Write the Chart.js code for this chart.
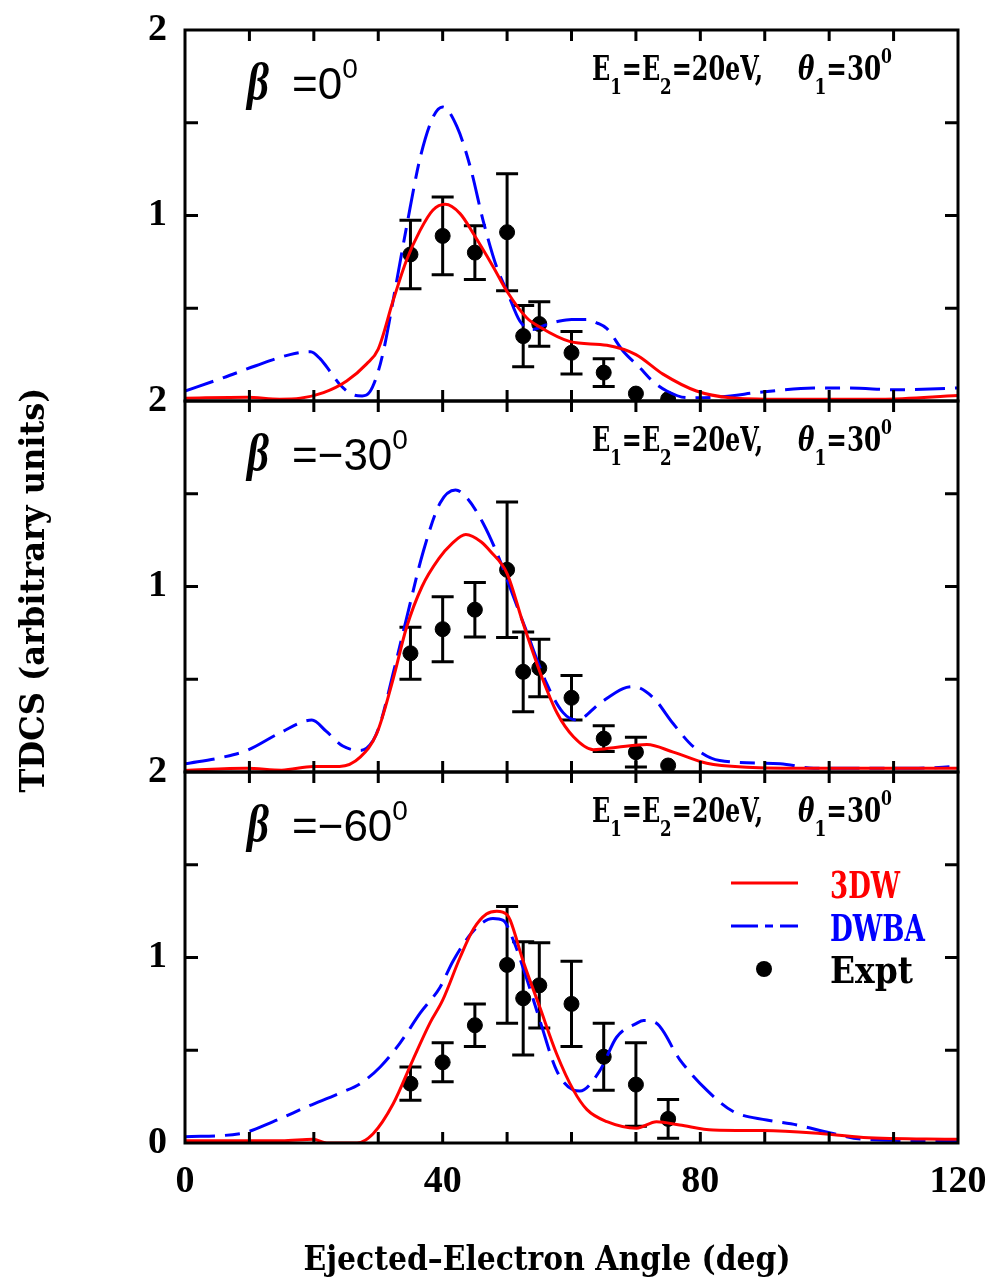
<!DOCTYPE html>
<html>
<head>
<meta charset="utf-8">
<script src="https://cdn.jsdelivr.net/npm/chart.js@4.4.1/dist/chart.umd.min.js"></script>
<style>
  html, body { margin: 0; padding: 0; background: #fff; }
  canvas { display: block; }
</style>
</head>
<body>
<canvas id="tdcs" width="994" height="1281"></canvas>
<script>
// tick labels
const xTickLabels = [0, 40, 80, 120];
const yTickLabels = [0, 1, 2];
const betaLabels  = ['0', '\u221230', '\u221260'];
const seriesNames = ['3DW', 'DWBA', 'Expt'];

// experiment (same angles in all panels)
const exptAngles = [35, 40, 45, 50, 52.5, 55, 60, 65, 70, 75];
const expt0      = [0.79, 0.89, 0.80, 0.91, 0.35, 0.415, 0.26, 0.153, 0.04, 0.01];
const expt0Err   = [0.185, 0.21, 0.145, 0.315, 0.165, 0.12, 0.115, 0.075, 0, 0];
const expt30     = [0.64, 0.77, 0.875, 1.09, 0.54, 0.56, 0.40, 0.18, 0.107, 0.035];
const expt30Err  = [0.14, 0.175, 0.147, 0.365, 0.215, 0.155, 0.12, 0.07, 0.08, 0];
const expt60     = [0.32, 0.435, 0.635, 0.96, 0.78, 0.85, 0.75, 0.465, 0.315, 0.13];
const expt60Err  = [0.09, 0.105, 0.115, 0.315, 0.305, 0.23, 0.23, 0.18, 0.225, 0.105];

// beta = 0
const dwba0Angles = [0, 6, 11, 16.3, 19.5, 21, 22.5, 24, 26, 27.5, 28.7, 30, 31, 32.3, 34.4, 36.5, 38.5, 40, 42.2, 44.3, 46.3, 48.4, 50, 52, 54, 56, 58, 60, 62.4, 64, 65.5, 68, 70.6, 72.5, 74.8, 77.9, 82, 90, 97.6, 103, 110.5, 120];
const dwba0       = [0.054, 0.126, 0.19, 0.25, 0.266, 0.227, 0.16, 0.09, 0.035, 0.027, 0.05, 0.16, 0.3, 0.54, 0.94, 1.31, 1.53, 1.585, 1.48, 1.26, 0.97, 0.72, 0.59, 0.43, 0.385, 0.41, 0.43, 0.44, 0.44, 0.42, 0.39, 0.27, 0.18, 0.11, 0.054, 0.018, 0.02, 0.05, 0.07, 0.07, 0.06, 0.07];
const dw3_0Angles = [0, 9.6, 14.7, 17.9, 21.5, 25.1, 28.2, 30, 32.3, 34.4, 36.5, 38.5, 40.4, 42.7, 44.8, 47.9, 50, 53, 55, 59.8, 65.5, 70, 74.2, 79.4, 84.6, 92.4, 108, 120];
const dw3_0       = [0.015, 0.02, 0.01, 0.015, 0.045, 0.108, 0.2, 0.28, 0.54, 0.76, 0.92, 1.03, 1.06, 1.01, 0.9, 0.72, 0.59, 0.45, 0.4, 0.32, 0.30, 0.25, 0.145, 0.054, 0.018, 0.01, 0.01, 0.03];

// beta = -30
const dwba30Angles = [0, 5.9, 9.6, 14.7, 19.7, 21.9, 24.5, 27.2, 29.2, 30.3, 32.3, 34.4, 37, 39.6, 42, 43.7, 46.3, 48.9, 50.5, 53, 56.1, 58.7, 60.8, 64.4, 68, 69.6, 72.7, 75.8, 79, 83, 92.4, 97.6, 113, 120];
const dwba30       = [0.044, 0.08, 0.116, 0.21, 0.28, 0.22, 0.14, 0.116, 0.17, 0.26, 0.53, 0.83, 1.19, 1.45, 1.52, 1.48, 1.34, 1.14, 0.99, 0.76, 0.48, 0.32, 0.28, 0.37, 0.45, 0.46, 0.40, 0.26, 0.134, 0.062, 0.045, 0.02, 0.02, 0.03];
const dw3_30Angles = [0, 9.6, 15, 19.9, 24, 27.2, 29.8, 32.3, 34.4, 36.8, 39.4, 41.4, 43.6, 46, 47.4, 50, 52.5, 55.2, 57.8, 60.3, 63.4, 67.1, 71.7, 75.8, 81, 87.2, 97.6, 120];
const dw3_30       = [0.008, 0.02, 0.01, 0.03, 0.03, 0.08, 0.21, 0.50, 0.78, 1.00, 1.15, 1.23, 1.28, 1.24, 1.19, 1.07, 0.80, 0.53, 0.315, 0.19, 0.12, 0.134, 0.148, 0.107, 0.047, 0.026, 0.02, 0.02];

// beta = -60
const dwba60Angles = [0, 8.5, 13.7, 18.9, 24.1, 27.2, 30.3, 33.4, 36.5, 39.6, 41.6, 44.7, 47.8, 49.4, 51, 53, 55.1, 57.7, 60.3, 61.3, 64.4, 67, 70.1, 71.2, 73.2, 76.8, 81, 85.1, 90.3, 95, 100.2, 105.3, 120];
const dwba60       = [0.034, 0.05, 0.115, 0.195, 0.27, 0.32, 0.41, 0.54, 0.70, 0.84, 0.98, 1.14, 1.21, 1.20, 1.09, 0.89, 0.66, 0.39, 0.285, 0.28, 0.39, 0.57, 0.645, 0.66, 0.645, 0.45, 0.285, 0.17, 0.124, 0.097, 0.054, 0.02, 0.01];
const dw3_60Angles = [0, 15, 19.9, 22, 26.7, 29.2, 32.3, 35.4, 38, 40, 42.7, 44.8, 46.8, 48.4, 50, 50.5, 52.5, 55.1, 57.7, 60.3, 62.4, 65.5, 70.1, 73.2, 76.8, 82, 89.8, 97.6, 105.3, 120];
const dw3_60       = [0.012, 0.012, 0.02, 0.0, 0.0, 0.05, 0.21, 0.45, 0.645, 0.77, 1.0, 1.155, 1.235, 1.25, 1.23, 1.20, 0.98, 0.73, 0.48, 0.285, 0.18, 0.115, 0.08, 0.115, 0.097, 0.07, 0.067, 0.054, 0.03, 0.02];

const RED = '#ff0000', BLUE = '#0000ff';
const DASH = [30, 10, 15, 10];
const SERIF = '"DejaVu Serif", serif';
const TIMES = '"Liberation Serif", serif';
const SANS  = '"Liberation Sans", Arial, sans-serif';

const panels = [
  { axis: 'yTop', beta: betaLabels[0], expt: expt0,  err: expt0Err },
  { axis: 'yMid', beta: betaLabels[1], expt: expt30, err: expt30Err },
  { axis: 'yBot', beta: betaLabels[2], expt: expt60, err: expt60Err }
];

const pts = (xs, ys) => xs.map((x, i) => ({ x: x, y: ys[i] }));

function curve(label, xs, ys, axis, color, dash, order) {
  return {
    label: label, data: pts(xs, ys), yAxisID: axis,
    borderColor: color, borderWidth: 3, borderDash: dash,
    pointRadius: 0, fill: false, cubicInterpolationMode: 'monotone', order: order
  };
}
function dots(label, ys, axis) {
  return {
    label: label, data: pts(exptAngles, ys), yAxisID: axis, showLine: false,
    pointRadius: 7.5, pointBackgroundColor: '#000', pointBorderColor: '#000', order: 3
  };
}

const datasets = [
  curve(seriesNames[0], dw3_0Angles,  dw3_0,  'yTop', RED,  [],   1),
  curve(seriesNames[1], dwba0Angles,  dwba0,  'yTop', BLUE, DASH, 2),
  dots(seriesNames[2], expt0, 'yTop'),
  curve(seriesNames[0], dw3_30Angles, dw3_30, 'yMid', RED,  [],   1),
  curve(seriesNames[1], dwba30Angles, dwba30, 'yMid', BLUE, DASH, 2),
  dots(seriesNames[2], expt30, 'yMid'),
  curve(seriesNames[0], dw3_60Angles, dw3_60, 'yBot', RED,  [],   1),
  curve(seriesNames[1], dwba60Angles, dwba60, 'yBot', BLUE, DASH, 2),
  dots(seriesNames[2], expt60, 'yBot')
];

// draw text squeezed/stretched to a given width; parts = [text, font, dy]
function richText(ctx, parts, x, y, width, align) {
  ctx.save();
  let total = 0;
  parts.forEach(p => { ctx.font = p[1]; total += ctx.measureText(p[0]).width; });
  const sx = width ? width / total : 1;
  ctx.translate(x, y);
  ctx.scale(sx, 1);
  let cx = align === 'center' ? -total / 2 : 0;
  ctx.textAlign = 'left';
  ctx.textBaseline = 'alphabetic';
  parts.forEach(p => {
    ctx.font = p[1];
    ctx.fillText(p[0], cx, p[2] || 0);
    cx += ctx.measureText(p[0]).width;
  });
  ctx.restore();
}

const panelPlugin = {
  id: 'panelPlugin',
  beforeDatasetsDraw(chart) {
    const ctx = chart.ctx, xs = chart.scales.x;
    ctx.save();
    ctx.strokeStyle = '#000';
    ctx.lineWidth = 3;
    panels.forEach(p => {
      const ys = chart.scales[p.axis];
      exptAngles.forEach((a, i) => {
        if (!p.err[i]) return;
        const x = xs.getPixelForValue(a);
        const y1 = ys.getPixelForValue(p.expt[i] + p.err[i]);
        const y2 = ys.getPixelForValue(p.expt[i] - p.err[i]);
        ctx.beginPath();
        ctx.moveTo(x, y1); ctx.lineTo(x, y2);
        ctx.moveTo(x - 11, y1); ctx.lineTo(x + 11, y1);
        ctx.moveTo(x - 11, y2); ctx.lineTo(x + 11, y2);
        ctx.stroke();
      });
    });
    ctx.restore();
  },
  afterDatasetsDraw(chart) {
    const ctx = chart.ctx, xs = chart.scales.x, area = chart.chartArea;
    ctx.save();
    ctx.strokeStyle = '#000';
    ctx.fillStyle = '#000';
    ctx.lineWidth = 3;
    panels.forEach(p => {
      const ys = chart.scales[p.axis];
      const top = ys.top, bot = ys.bottom;
      ctx.strokeRect(area.left, top, area.right - area.left, bot - top);
      ctx.beginPath();
      for (let a = 10; a < 120; a += 10) {
        const x = xs.getPixelForValue(a);
        ctx.moveTo(x, top); ctx.lineTo(x, top + 11);
        ctx.moveTo(x, bot); ctx.lineTo(x, bot - 11);
      }
      for (let v = 0.5; v < 2; v += 0.5) {
        const y = ys.getPixelForValue(v);
        ctx.moveTo(area.left, y); ctx.lineTo(area.left + 13, y);
        ctx.moveTo(area.right, y); ctx.lineTo(area.right - 13, y);
      }
      ctx.stroke();

      // beta label
      richText(ctx, [['\u03b2', 'bold italic 52px ' + TIMES, 0]], 247, top + 69, 22);
      richText(ctx, [['=' + p.beta, '44px ' + SANS, 0], ['0', '28px ' + SANS, -21]], 292, top + 69);
      // energies / angle label
      richText(ctx, [
        ['E', 'bold 33px ' + SERIF, 0], ['1', 'bold 23px ' + SERIF, 14],
        ['=E', 'bold 33px ' + SERIF, 0], ['2', 'bold 23px ' + SERIF, 14],
        ['=20eV,', 'bold 33px ' + SERIF, 0]
      ], 592, top + 50, 171);
      richText(ctx, [
        ['\u03b8', 'bold italic 33px ' + SERIF, 0], ['1', 'bold 23px ' + SERIF, 14],
        ['=30', 'bold 33px ' + SERIF, 0], ['0', 'bold 21px ' + SERIF, -17]
      ], 798, top + 50, 94);
    });

    // legend in bottom panel
    const lt = chart.scales.yBot.top;
    ctx.lineWidth = 3;
    ctx.strokeStyle = RED;
    ctx.beginPath(); ctx.moveTo(731, lt + 111); ctx.lineTo(798, lt + 111); ctx.stroke();
    ctx.strokeStyle = BLUE;
    ctx.setLineDash([27, 7, 8, 7]);
    ctx.beginPath(); ctx.moveTo(731, lt + 154); ctx.lineTo(798, lt + 154); ctx.stroke();
    ctx.setLineDash([]);
    ctx.fillStyle = '#000';
    ctx.beginPath(); ctx.arc(764, lt + 197, 8, 0, Math.PI * 2); ctx.fill();
    ctx.fillStyle = RED;
    richText(ctx, [[seriesNames[0], 'bold 38px ' + SERIF, 0]], 830, lt + 126, 70);
    ctx.fillStyle = BLUE;
    richText(ctx, [[seriesNames[1], 'bold 38px ' + SERIF, 0]], 830, lt + 169, 95);
    ctx.fillStyle = '#000';
    richText(ctx, [[seriesNames[2], 'bold 38px ' + SERIF, 0]], 830, lt + 211, 83);

    // axis titles
    richText(ctx, [['Ejected\u2013Electron Angle (deg)', 'bold 33px ' + SERIF, 0]], 547, 1270, 487, 'center');
    ctx.save();
    ctx.translate(44, 590);
    ctx.rotate(-Math.PI / 2);
    richText(ctx, [['TDCS (arbitrary units)', 'bold 34px ' + SERIF, 0]], 0, 0, 405, 'center');
    ctx.restore();
    ctx.restore();
  }
};

// keep the plot box fixed: no extra room reserved for overhanging labels
function pinSize(s, w, h) {
  if (w) s.width = w;
  if (h) s.height = h;
  s.paddingTop = s.paddingBottom = s.paddingLeft = s.paddingRight = 0;
}

function yAxis(id) {
  return {
    type: 'linear', position: 'left', stack: 'panels', stackWeight: 1,
    min: 0, max: 2,
    grid: { display: false, drawTicks: false },
    border: { display: false },
    afterBuildTicks: s => { s.ticks = yTickLabels.map(v => ({ value: v })); },
    afterFit: s => pinSize(s, 185, 0),
    ticks: {
      padding: 18, color: '#000',
      font: { family: TIMES, size: 38, weight: 'bold' },
      callback: v => (v === 0 && id !== 'yBot') ? '' : String(v)
    }
  };
}

new Chart(document.getElementById('tdcs'), {
  type: 'line',
  data: { datasets: datasets },
  plugins: [panelPlugin],
  options: {
    responsive: false, animation: false, devicePixelRatio: 1, events: [],
    layout: { padding: { top: 30, right: 36, bottom: 0, left: 0 } },
    plugins: { legend: { display: false }, tooltip: { enabled: false } },
    scales: {
      x: {
        type: 'linear', position: 'bottom', min: 0, max: 120,
        grid: { display: false, drawTicks: false },
        border: { display: false },
        afterBuildTicks: s => { s.ticks = xTickLabels.map(v => ({ value: v })); },
        afterFit: s => pinSize(s, 0, 138),
        ticks: { padding: 16, color: '#000', maxRotation: 0, font: { family: TIMES, size: 38, weight: 'bold' } }
      },
      yBot: yAxis('yBot'),
      yMid: yAxis('yMid'),
      yTop: yAxis('yTop')
    }
  }
});
</script>
</body>
</html>
